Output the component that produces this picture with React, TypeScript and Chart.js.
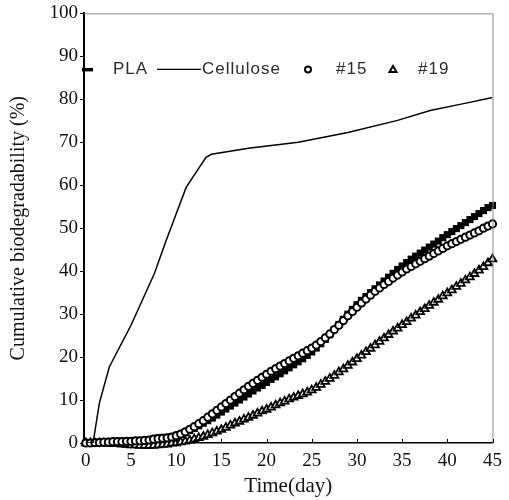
import { useEffect, useRef } from 'react';
import { Chart, registerables } from 'chart.js';

Chart.register(...registerables);

// ---- data ----
const DAYS = [
  0, 0.5, 1, 1.5, 2, 2.5, 3, 3.5, 4, 4.5, 5, 5.5, 6, 6.5, 7, 7.5, 8, 8.5, 9, 9.5,
  10, 10.5, 11, 11.5, 12, 12.5, 13, 13.5, 14, 14.5, 15, 15.5, 16, 16.5, 17, 17.5, 18, 18.5, 19, 19.5,
  20, 20.5, 21, 21.5, 22, 22.5, 23, 23.5, 24, 24.5, 25, 25.5, 26, 26.5, 27, 27.5, 28, 28.5, 29, 29.5,
  30, 30.5, 31, 31.5, 32, 32.5, 33, 33.5, 34, 34.5, 35, 35.5, 36, 36.5, 37, 37.5, 38, 38.5, 39, 39.5,
  40, 40.5, 41, 41.5, 42, 42.5, 43, 43.5, 44, 44.5, 45,
];

const PLA = [
  0.0, 0.1, 0.1, 0.2, 0.3, 0.3, 0.3, 0.4, 0.4, 0.4, 0.5, 0.5, 0.6, 0.6, 0.8, 1.0, 1.2, 1.3, 1.3, 1.4,
  1.6, 2.0, 2.4, 2.9, 3.4, 4.0, 4.6, 5.2, 5.8, 6.5, 7.2, 7.9, 8.6, 9.3, 10.0, 10.7, 11.4, 12.1, 12.8, 13.4,
  14.1, 14.8, 15.4, 16.1, 16.8, 17.5, 18.2, 18.9, 19.6, 20.4, 21.2, 22.1, 23.1, 24.1, 25.2, 26.4, 27.6, 28.8, 30.0, 31.1,
  32.2, 33.2, 34.1, 35.0, 35.9, 36.8, 37.7, 38.6, 39.5, 40.4, 41.2, 42.0, 42.8, 43.5, 44.2, 44.9, 45.6, 46.3, 47.0, 47.8,
  48.5, 49.2, 49.9, 50.6, 51.3, 52.0, 52.7, 53.4, 54.1, 54.8, 55.3,
];

const S15 = [
  0.0, 0.0, 0.1, 0.1, 0.2, 0.2, 0.3, 0.3, 0.3, 0.4, 0.4, 0.5, 0.5, 0.6, 0.7, 0.9, 1.0, 1.1, 1.2, 1.4,
  1.7, 2.1, 2.6, 3.2, 3.8, 4.5, 5.2, 6.0, 6.8, 7.6, 8.4, 9.2, 10.0, 10.8, 11.6, 12.4, 13.2, 13.9, 14.6, 15.3,
  16.0, 16.7, 17.3, 17.9, 18.5, 19.1, 19.7, 20.3, 20.9, 21.5, 22.1, 22.8, 23.6, 24.5, 25.4, 26.4, 27.4, 28.5, 29.6, 30.6,
  31.6, 32.6, 33.5, 34.4, 35.3, 36.1, 36.9, 37.6, 38.4, 39.1, 39.8, 40.5, 41.1, 41.7, 42.3, 42.9, 43.5, 44.1, 44.7, 45.3,
  45.9, 46.4, 46.9, 47.4, 47.9, 48.4, 48.9, 49.4, 50.0, 50.5, 51.0,
];

const S19 = [
  0.0, 0.0, 0.0, 0.0, -0.1, -0.1, -0.2, -0.2, -0.3, -0.4, -0.5, -0.5, -0.6, -0.6, -0.6, -0.6, -0.5, -0.4, -0.3, -0.1,
  0.0, 0.2, 0.4, 0.6, 0.9, 1.2, 1.5, 1.9, 2.3, 2.7, 3.1, 3.6, 4.1, 4.6, 5.0, 5.5, 5.9, 6.4, 6.9, 7.4,
  7.8, 8.3, 8.8, 9.3, 9.7, 10.2, 10.6, 11.0, 11.4, 11.8, 12.3, 12.9, 13.6, 14.3, 15.0, 15.7, 16.5, 17.2, 18.0, 18.8,
  19.6, 20.4, 21.2, 22.0, 22.8, 23.6, 24.4, 25.2, 26.0, 26.7, 27.5, 28.2, 29.0, 29.7, 30.5, 31.2, 32.0, 32.7, 33.4, 34.2,
  34.9, 35.6, 36.4, 37.1, 37.9, 38.6, 39.4, 40.2, 41.0, 41.9, 42.8,
];

const CELL_DAYS = [0, 0.8, 1.5, 2.6, 5.0, 7.6, 8.9, 11.1, 13.3, 13.9, 18, 23.5, 29, 34.5, 38.1, 41.8, 45];
const CELLULOSE = [0, 0, 9.3, 17.7, 27.4, 39.5, 47.2, 59.5, 66.5, 67.2, 68.6, 70, 72.3, 75.1, 77.4, 79, 80.4];

const X_TICKS = [0, 5, 10, 15, 20, 25, 30, 35, 40, 45];
const Y_TICKS = [0, 10, 20, 30, 40, 50, 60, 70, 80, 90, 100];
const SERIES_NAMES = ['PLA', 'Cellulose', '#15', '#19'];
const X_TITLE = 'Time(day)';
const Y_TITLE = 'Cumulative biodegradability (%)';

const SERIF = "'Liberation Serif', 'Times New Roman', serif";
const SANS = "'Liberation Sans', Arial, sans-serif";

const framePlugin = {
  id: 'frameAndLegend',
  afterDraw(chart: any) {
    const { ctx, chartArea } = chart;
    const { left, right, top, bottom } = chartArea;
    const xs = chart.scales.x;
    ctx.save();
    // top and right frame
    ctx.strokeStyle = '#8a8a8a';
    ctx.lineWidth = 1;
    ctx.beginPath();
    ctx.moveTo(left, top + 0.5);
    ctx.lineTo(right + 0.5, top + 0.5);
    ctx.lineTo(right + 0.5, bottom);
    ctx.stroke();
    // inward x ticks
    ctx.strokeStyle = '#000';
    ctx.lineWidth = 1;
    ctx.beginPath();
    X_TICKS.forEach((v) => {
      const px = Math.round(xs.getPixelForValue(v)) + 0.5;
      ctx.moveTo(px, bottom);
      ctx.lineTo(px, bottom - 4);
    });
    ctx.stroke();

    // legend
    const ly = top + 56;
    ctx.fillStyle = '#000';
    ctx.fillRect(left - 2, ly - 1.5, 11, 3.5);
    ctx.font = `17px ${SANS}`;
    try { (ctx as any).letterSpacing = '1px'; } catch (e) {}
    ctx.textBaseline = 'middle';
    ctx.textAlign = 'left';
    ctx.fillStyle = '#2a2a2a';
    ctx.fillText(SERIES_NAMES[0], left + 29, ly);
    ctx.strokeStyle = '#000';
    ctx.lineWidth = 1.3;
    ctx.beginPath();
    ctx.moveTo(left + 73, ly);
    ctx.lineTo(left + 117, ly);
    ctx.stroke();
    ctx.fillText(SERIES_NAMES[1], left + 118, ly);
    ctx.lineWidth = 2;
    ctx.beginPath();
    ctx.arc(left + 224, ly, 3, 0, Math.PI * 2);
    ctx.stroke();
    ctx.fillText(SERIES_NAMES[2], left + 252, ly);
    ctx.beginPath();
    const tx = left + 309;
    ctx.moveTo(tx, ly - 3.5);
    ctx.lineTo(tx + 3.5, ly + 2.5);
    ctx.lineTo(tx - 3.5, ly + 2.5);
    ctx.closePath();
    ctx.stroke();
    ctx.fillText(SERIES_NAMES[3], left + 334, ly);
    ctx.restore();
  },
};

export default function App() {
  const canvasRef = useRef<HTMLCanvasElement | null>(null);

  useEffect(() => {
    const canvas = canvasRef.current;
    if (!canvas) return;
    const toPts = (xs: number[], ys: number[]) => xs.map((x, i) => ({ x, y: ys[i] }));
    const chart = new Chart(canvas, {
      type: 'scatter',
      data: {
        datasets: [
          {
            type: 'line',
            label: SERIES_NAMES[1],
            data: toPts(CELL_DAYS, CELLULOSE),
            borderColor: '#000',
            borderWidth: 1.5,
            pointRadius: 0,
            tension: 0,
            fill: false,
            order: 0,
          } as any,
          {
            label: SERIES_NAMES[2],
            data: toPts(DAYS, S15),
            pointStyle: 'circle',
            pointRadius: 3.6,
            borderWidth: 2,
            borderColor: '#000',
            backgroundColor: '#fff',
            showLine: false,
            clip: false,
            order: 1,
          },
          {
            label: SERIES_NAMES[0],
            data: toPts(DAYS, PLA),
            pointStyle: 'rect',
            pointRadius: 5,
            borderWidth: 0,
            borderColor: '#000',
            backgroundColor: '#000',
            showLine: false,
            clip: false,
            order: 2,
          },
          {
            label: SERIES_NAMES[3],
            data: toPts(DAYS, S19),
            pointStyle: 'triangle',
            pointRadius: 4.5,
            borderWidth: 1.8,
            borderColor: '#000',
            backgroundColor: '#fff',
            showLine: false,
            clip: false,
            order: 3,
          },
        ],
      },
      options: {
        animation: false,
        responsive: false,
        maintainAspectRatio: false,
        layout: { padding: { left: 0, top: 13, right: 14, bottom: 0 } },
        plugins: {
          legend: { display: false },
          tooltip: { enabled: false },
        },
        scales: {
          x: {
            type: 'linear',
            min: -0.2,
            max: 45,
            afterBuildTicks: (s: any) => {
              s.ticks = X_TICKS.map((v) => ({ value: v }));
            },
            afterFit: (s: any) => {
              s.height = 57;
            },
            grid: { display: false, drawTicks: false },
            border: { display: true, color: '#000', width: 1.5 },
            ticks: {
              color: '#111',
              padding: 7,
              maxRotation: 0,
              autoSkip: false,
              font: { family: SERIF, size: 19 },
            },
            title: {
              display: true,
              text: X_TITLE,
              color: '#111',
              font: { family: SERIF, size: 21 },
              padding: { top: 0, bottom: 1 },
            },
          },
          y: {
            type: 'linear',
            min: 0,
            max: 100,
            afterBuildTicks: (s: any) => {
              s.ticks = Y_TICKS.map((v) => ({ value: v }));
            },
            afterFit: (s: any) => {
              s.width = 84;
            },
            grid: {
              display: true,
              drawOnChartArea: false,
              drawTicks: true,
              tickLength: 4,
              color: '#000',
              lineWidth: 1,
            },
            border: { display: true, color: '#000', width: 2 },
            ticks: {
              color: '#111',
              padding: 2,
              autoSkip: false,
              font: { family: SERIF, size: 19 },
            },
            title: {
              display: true,
              text: Y_TITLE,
              color: '#111',
              font: { family: SERIF, size: 20 },
              padding: { top: 7, bottom: 0 },
            },
          },
        },
      },
      plugins: [framePlugin],
    });
    return () => chart.destroy();
  }, []);

  return (
    <div style={{ position: 'fixed', left: 0, top: 0, width: 509, height: 500, background: '#fff' }}>
      <canvas ref={canvasRef} width={509} height={500} />
    </div>
  );
}
